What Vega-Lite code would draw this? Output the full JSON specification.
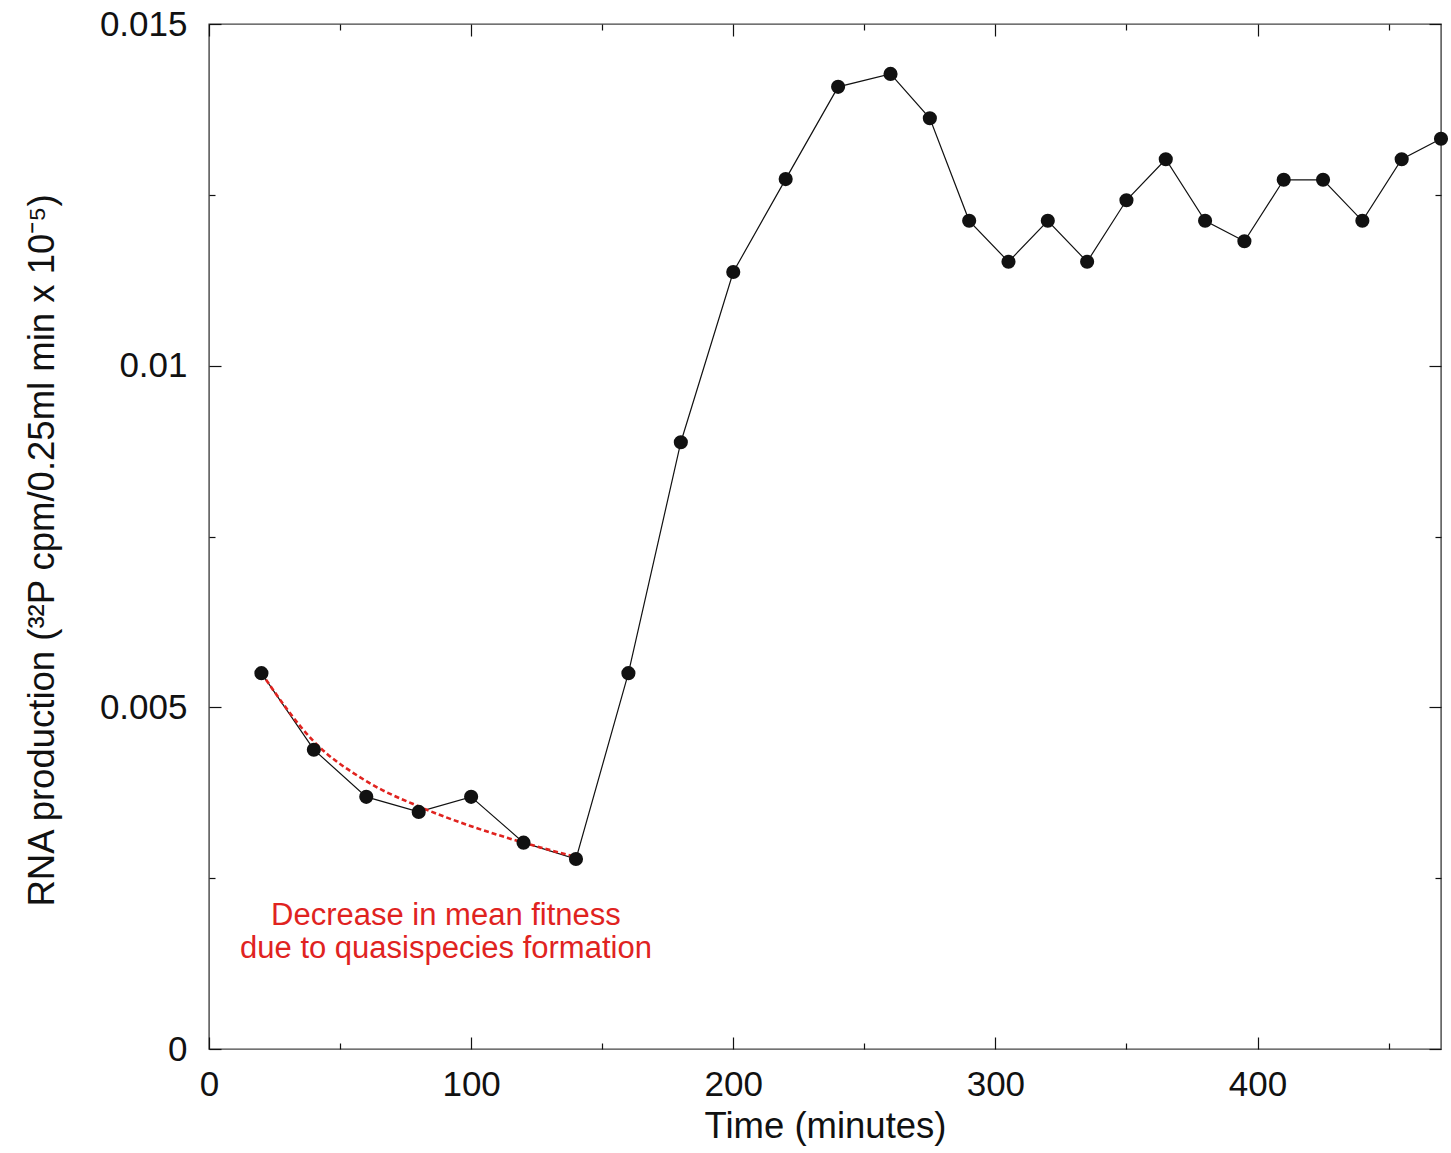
{
  "$schema": "https://vega.github.io/schema/vega-lite/v6.json",
  "width": 1232,
  "height": 1025,
  "autosize": {"type": "none"},
  "padding": {"left": 209, "top": 24, "right": 10, "bottom": 104},
  "background": "white",
  "config": {
    "view": {"stroke": "#444", "strokeWidth": 1.4},
    "font": "Liberation Sans",
    "axis": {
      "grid": false,
      "domain": false,
      "tickColor": "#111",
      "tickWidth": 1.2,
      "labelFont": "Liberation Sans",
      "labelFontSize": 35,
      "labelColor": "#111",
      "titleFont": "Liberation Sans",
      "titleFontSize": 36.5,
      "titleFontWeight": "normal",
      "titleColor": "#111"
    }
  },
  "datasets": {
    "rna": [
      {"t": 20, "v": 0.0055},
      {"t": 40, "v": 0.00438},
      {"t": 60, "v": 0.00369},
      {"t": 80, "v": 0.00347},
      {"t": 100, "v": 0.00369},
      {"t": 120, "v": 0.00302},
      {"t": 140, "v": 0.00278},
      {"t": 160, "v": 0.0055},
      {"t": 180, "v": 0.00888},
      {"t": 200, "v": 0.01137},
      {"t": 220, "v": 0.01273},
      {"t": 240, "v": 0.01408},
      {"t": 260, "v": 0.01427},
      {"t": 275, "v": 0.01362},
      {"t": 290, "v": 0.01212},
      {"t": 305, "v": 0.01152},
      {"t": 320, "v": 0.01212},
      {"t": 335, "v": 0.01152},
      {"t": 350, "v": 0.01242},
      {"t": 365, "v": 0.01302},
      {"t": 380, "v": 0.01212},
      {"t": 395, "v": 0.01182},
      {"t": 410, "v": 0.01272},
      {"t": 425, "v": 0.01272},
      {"t": 440, "v": 0.01212},
      {"t": 455, "v": 0.01302},
      {"t": 470, "v": 0.01332}
    ],
    "fit": [
      {"t": 20, "v": 0.0055},
      {"t": 40, "v": 0.0045},
      {"t": 60, "v": 0.00392},
      {"t": 80, "v": 0.00355},
      {"t": 100, "v": 0.00326},
      {"t": 120, "v": 0.00302},
      {"t": 140, "v": 0.00281}
    ],
    "note": [
      {"t": 90.4, "v": 0.001815, "label": "Decrease in mean fitness\ndue to quasispecies formation"}
    ]
  },
  "resolve": {"axis": {"x": "independent", "y": "independent"}},
  "layer": [
    {
      "data": {"name": "rna"},
      "mark": {"type": "line", "color": "#111", "strokeWidth": 1.2},
      "encoding": {
        "x": {
          "field": "t", "type": "quantitative",
          "scale": {"domain": [0, 470], "nice": false, "zero": false},
          "axis": {"orient": "bottom", "values": [0, 100, 200, 300, 400], "tickSize": -12, "labelPadding": 30, "title": "Time (minutes)", "titlePadding": 6, "format": "d", "labelFlush": false, "labelOverlap": false}
        },
        "y": {
          "field": "v", "type": "quantitative",
          "scale": {"domain": [0, 0.015], "nice": false},
          "axis": {"orient": "left", "values": [0, 0.005, 0.01, 0.015], "tickSize": -12, "labelPadding": 34, "format": ".3~g", "title": "RNA production (³²P cpm/0.25ml min x 10⁻⁵)", "titlePadding": 38, "titleY": 526, "labelFlush": false, "labelOverlap": false}
        }
      }
    },
    {
      "data": {"name": "fit"},
      "mark": {"type": "line", "color": "#e0231f", "strokeWidth": 2.6, "strokeDash": [5, 3], "interpolate": "monotone"},
      "encoding": {
        "x": {
          "field": "t", "type": "quantitative",
          "axis": {"orient": "bottom", "values": [50, 150, 250, 350, 450], "tickSize": -6, "labels": false, "title": null}
        },
        "y": {
          "field": "v", "type": "quantitative",
          "axis": {"orient": "left", "values": [0.0025, 0.0075, 0.0125], "tickSize": -6, "labels": false, "title": null}
        }
      }
    },
    {
      "data": {"name": "rna"},
      "mark": {"type": "point", "filled": true, "color": "#111", "size": 200, "opacity": 1},
      "encoding": {
        "x": {
          "field": "t", "type": "quantitative",
          "axis": {"orient": "top", "values": [0, 100, 200, 300, 400], "tickSize": -12, "labels": false, "title": null}
        },
        "y": {
          "field": "v", "type": "quantitative",
          "axis": {"orient": "right", "values": [0, 0.005, 0.01, 0.015], "tickSize": -12, "labels": false, "title": null}
        }
      }
    },
    {
      "data": {"name": "note"},
      "mark": {"type": "text", "color": "#e0231f", "fontSize": 31, "align": "center", "baseline": "alphabetic", "lineBreak": "\n", "lineHeight": 33, "font": "Liberation Sans"},
      "encoding": {
        "x": {
          "field": "t", "type": "quantitative",
          "axis": {"orient": "top", "values": [50, 150, 250, 350, 450], "tickSize": -6, "labels": false, "title": null}
        },
        "y": {
          "field": "v", "type": "quantitative",
          "axis": {"orient": "right", "values": [0.0025, 0.0075, 0.0125], "tickSize": -6, "labels": false, "title": null}
        },
        "text": {"field": "label"}
      }
    }
  ]
}
